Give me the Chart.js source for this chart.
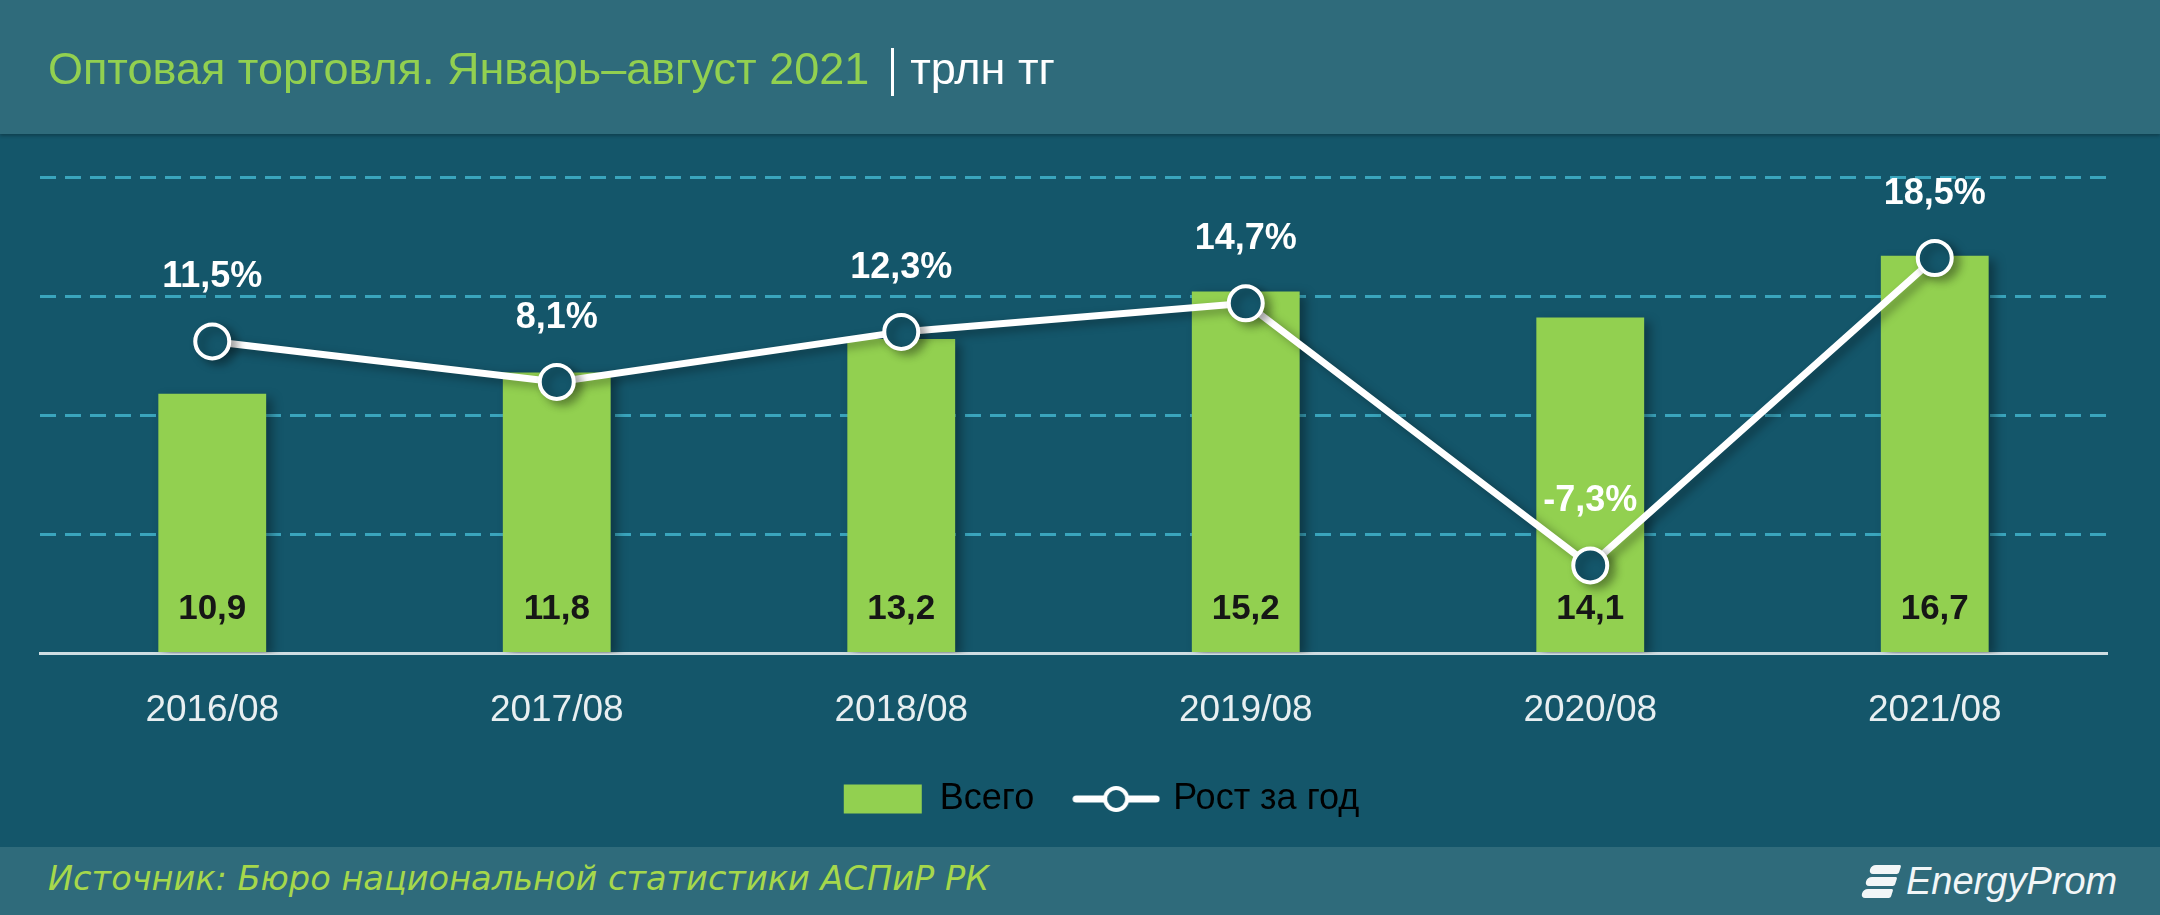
<!DOCTYPE html>
<html>
<head>
<meta charset="utf-8">
<script src="https://cdn.jsdelivr.net/npm/chart.js@4.4.1/dist/chart.umd.min.js"></script>
<style>
  html, body { margin: 0; padding: 0; }
  body {
    width: 2160px; height: 915px; overflow: hidden; position: relative;
    background: #14566a;
    font-family: "Liberation Sans", Arial, sans-serif;
  }
  #head {
    position: absolute; left: 0; top: 0; width: 2160px; height: 134px;
    background: #2f6b7b;
    box-shadow: 0 2px 3px rgba(0,0,0,0.25);
    z-index: 2;
  }
  #title {
    position: absolute; left: 48px; top: 42px;
    font-size: 45px; line-height: 54px; color: #92d050; white-space: nowrap;
  }
  #title .sep {
    display: inline-block; width: 3px; height: 48px; background: #fff;
    vertical-align: middle; margin: 0 16px 0 22px;
  }
  #title .unit { color: #fff; }
  #chartBox { position: absolute; left: 0; top: 134px; width: 2160px; height: 713px; }
  #foot {
    position: absolute; left: 0; top: 847px; width: 2160px; height: 68px;
    background: #2f6b7b;
  }
  #source {
    position: absolute; left: 48px; top: 12px;
    font-family: "DejaVu Sans", sans-serif; font-style: italic;
    font-size: 33.6px; line-height: 40px; color: #a6d84b; white-space: nowrap;
  }
  #logo { position: absolute; left: 1862px; top: 12px; height: 44px; }
  #logo .mark { position: absolute; left: 0; top: 2px; width: 40px; height: 40px; }
  #logo .mark div {
    position: absolute; height: 9px; background: #f2f6f7; border-radius: 5px 2px 2px 5px;
    transform: skewX(-18deg);
  }
  #logo .txt {
    position: absolute; left: 44px; top: 0; font-style: italic; font-size: 38px;
    line-height: 44px; color: #f2f6f7; white-space: nowrap;
  }
</style>
</head>
<body>
<div id="head">
  <div id="title">Оптовая торговля. Январь–август 2021<span class="sep"></span><span class="unit">трлн тг</span></div>
</div>
<div id="chartBox"><canvas id="chart"></canvas></div>
<div id="foot">
  <div id="source">Источник: Бюро национальной статистики АСПиР РК</div>
  <div id="logo">
    <div class="mark">
      <div style="left:8px;top:4px;width:30px;"></div>
      <div style="left:4px;top:16px;width:30px;"></div>
      <div style="left:0px;top:28px;width:30px;"></div>
    </div>
    <div class="txt">EnergyProm</div>
  </div>
</div>
<script>
// data
const categories = ['2016/08', '2017/08', '2018/08', '2019/08', '2020/08', '2021/08'];
const totalValues = [10.9, 11.8, 13.2, 15.2, 14.1, 16.7];     // трлн тг
const growthValues = [11.5, 8.1, 12.3, 14.7, -7.3, 18.5];     // %
const seriesNames = ['Всего', 'Рост за год'];

const barGreen = '#92d050';
const darkBg = '#14566a';
const fontFamily = '"Liberation Sans", Arial, sans-serif';

Chart.defaults.font.family = fontFamily;

function fmt(v) {
  return v.toFixed(1).replace('.', ',');
}

// little icon for the line item of the legend
const lineIcon = document.createElement('canvas');
lineIcon.width = 88; lineIcon.height = 34;
(function () {
  const c = lineIcon.getContext('2d');
  c.strokeStyle = '#fff';
  c.lineWidth = 7;
  c.lineCap = 'round';
  c.beginPath(); c.moveTo(4, 17); c.lineTo(84, 17); c.stroke();
  c.beginPath(); c.arc(44, 17, 11, 0, Math.PI * 2);
  c.fillStyle = darkBg; c.fill();
  c.lineWidth = 4; c.stroke();
})();

// soft drop shadow under bars and line
const shadows = {
  id: 'shadows',
  beforeDatasetDraw(chart) {
    const ctx = chart.ctx;
    ctx.save();
    ctx.shadowColor = 'rgba(0,0,0,0.35)';
    ctx.shadowBlur = 10;
    ctx.shadowOffsetX = 6;
    ctx.shadowOffsetY = 4;
  },
  afterDatasetDraw(chart) {
    chart.ctx.restore();
  }
};

// the legend sits a little right of the centre in the original
const legendShift = {
  id: 'legendShift',
  afterLayout(chart) {
    chart.legend.left += 28;
    chart.legend.right += 28;
  }
};

// value labels: totals near the bar base, growth above the points
const valueLabels = {
  id: 'valueLabels',
  afterDatasetsDraw(chart) {
    const ctx = chart.ctx;
    ctx.save();
    ctx.textAlign = 'center';
    ctx.textBaseline = 'middle';

    ctx.font = 'bold 35px ' + fontFamily;
    ctx.fillStyle = '#161616';
    chart.getDatasetMeta(0).data.forEach((bar, i) => {
      ctx.fillText(fmt(totalValues[i]), bar.x, bar.base - 43);
    });

    ctx.font = 'bold 36px ' + fontFamily;
    ctx.fillStyle = '#ffffff';
    chart.getDatasetMeta(1).data.forEach((pt, i) => {
      ctx.fillText(fmt(growthValues[i]) + '%', pt.x, pt.y - 64);
    });
    ctx.restore();
  }
};

new Chart(document.getElementById('chart'), {
  type: 'bar',
  data: {
    labels: categories,
    datasets: [
      {
        type: 'bar',
        label: seriesNames[0],
        data: totalValues,
        backgroundColor: barGreen,
        yAxisID: 'y',
        order: 2,
        categoryPercentage: 1,
        barPercentage: 0.313
      },
      {
        type: 'line',
        label: seriesNames[1],
        data: growthValues,
        yAxisID: 'y1',
        order: 1,
        borderColor: '#ffffff',
        borderWidth: 7,
        tension: 0,
        pointRadius: 17,
        pointBorderWidth: 4,
        pointBackgroundColor: darkBg,
        pointBorderColor: '#ffffff',
        clip: false
      }
    ]
  },
  options: {
    responsive: true,
    maintainAspectRatio: false,
    animation: false,
    layout: { padding: { left: 40, right: 53, top: 43, bottom: 20 } },
    scales: {
      x: {
        grid: { display: false, drawTicks: false },
        border: { display: true, color: '#cfdde2', width: 3 },
        ticks: { color: '#e8eff1', font: { size: 37 }, padding: 35 },
        afterFit(scale) { scale.height -= 30; }
      },
      y: {
        min: 0,
        max: 20,
        ticks: { display: false, stepSize: 5 },
        grid: {
          drawTicks: false,
          lineWidth: 3,
          color: (c) => (c.tick && c.tick.value === 0 ? 'rgba(0,0,0,0)' : '#3aa5bd')
        },
        border: { display: false, dash: [16, 9] }
      },
      y1: {
        display: false,
        min: -14.7,
        max: 25.3
      }
    },
    plugins: {
      tooltip: { enabled: false },
      legend: {
        position: 'bottom',
        labels: {
          usePointStyle: true,
          pointStyleWidth: 78,
          boxHeight: 29,
          color: '#ffffff',
          font: { size: 36 },
          padding: 43,
          generateLabels() {
            return [
              { text: seriesNames[0], fillStyle: barGreen, strokeStyle: barGreen, lineWidth: 0,
                pointStyle: 'rect', datasetIndex: 0, hidden: false },
              { text: seriesNames[1], fillStyle: darkBg, strokeStyle: '#fff', lineWidth: 0,
                pointStyle: lineIcon, datasetIndex: 1, hidden: false }
            ];
          }
        }
      }
    }
  },
  plugins: [shadows, legendShift, valueLabels]
});
</script>
</body>
</html>
